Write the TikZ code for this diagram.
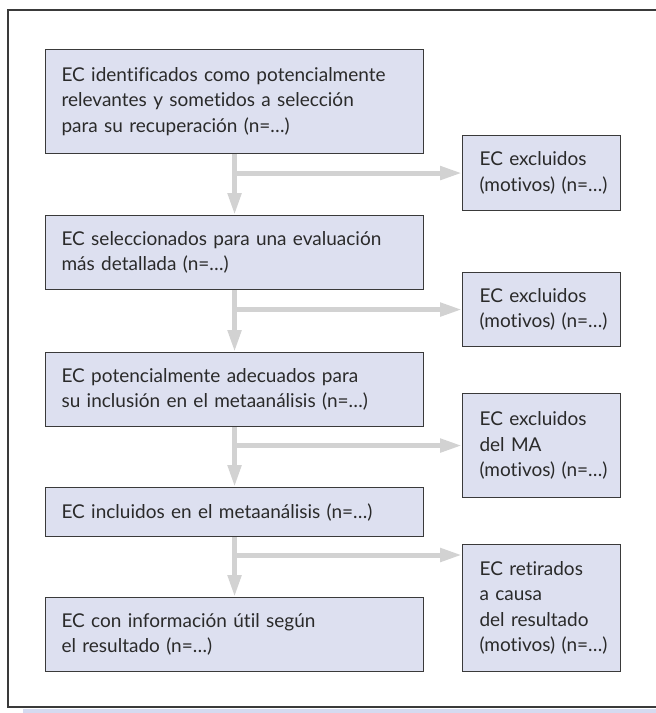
\documentclass[tikz,border=0pt]{standalone}
\usepackage{fontspec}
\setmainfont{Lato}[Ligatures=NoCommon]
\usetikzlibrary{arrows.meta}
\definecolor{boxfill}{HTML}{DDE0F0}
\definecolor{boxline}{HTML}{3A3A3A}
\definecolor{flowgray}{HTML}{D2D2D2}
\definecolor{inkgray}{HTML}{2A2A2A}
\definecolor{bandblue}{HTML}{D5DAF0}
\begin{document}
\begin{tikzpicture}[x=1pt, y=-1pt, font=\fontsize{19}{25.5}\selectfont, text=inkgray,
        stage/.style={draw=boxline, fill=boxfill, line width=1.1pt, anchor=north west,
            align=left, inner xsep=16pt, inner ysep=0pt, text width=346pt},
        drop/.style={stage, inner xsep=17pt, text width=124pt},
        flow/.style={flowgray, line width=5pt, -{Triangle[length=22pt, width=13pt]}}]
        \useasboundingbox (0,0) rectangle (656,713);
        % frame and bottom band
        \draw[boxline, line width=1.4pt] (656,10) -- (8,10) -- (8,707) -- (656,707);
        \fill[bandblue] (23,708.5) rectangle (656,713);
        % main column
        \node[stage, minimum height=104pt] (b1) at (45,49) {EC identificados como potencialmente\\relevantes y sometidos a selección\\para su recuperación (n=\dots)};
        \node[stage, minimum height=74pt] (b2) at (45,215) {EC seleccionados para una evaluación\\más detallada (n=\dots)};
        \node[stage, minimum height=74pt] (b3) at (45,352) {EC potencialmente adecuados para\\su inclusión en el metaanálisis (n=\dots)};
        \node[stage, minimum height=49pt] (b4) at (45,487) {EC incluidos en el metaanálisis (n=\dots)};
        \node[stage, minimum height=74pt] (b5) at (45,597) {EC con información útil según\\el resultado (n=\dots)};
        % side column
        \node[drop, minimum height=75pt] (e1) at (462,135) {EC excluidos\\(motivos)~(n=\dots)};
        \node[drop, minimum height=74pt] (e2) at (462,272) {EC excluidos\\(motivos)~(n=\dots)};
        \node[drop, minimum height=104pt] (e3) at (462,393) {EC excluidos\\del MA\\(motivos)~(n=\dots)};
        \node[drop, minimum height=127pt] (e4) at (462,544) {EC retirados\\a causa\\del resultado\\(motivos)~(n=\dots)};
        \coordinate (t4) at ([yshift=-11pt]e4.north west);
        % arrows
        \foreach \from/\to in {b1/b2, b2/b3, b3/b4, b4/b5}
            \draw[flow] (\from.south) -- (\to.north);
        \foreach \from/\to in {b1/e1, b2/e2, b3/e3}
            \draw[flow] (\from.south |- \to.west) -- (\to.west);
        \draw[flow] (b4.south |- t4) -- (t4);
\end{tikzpicture}
\end{document}
